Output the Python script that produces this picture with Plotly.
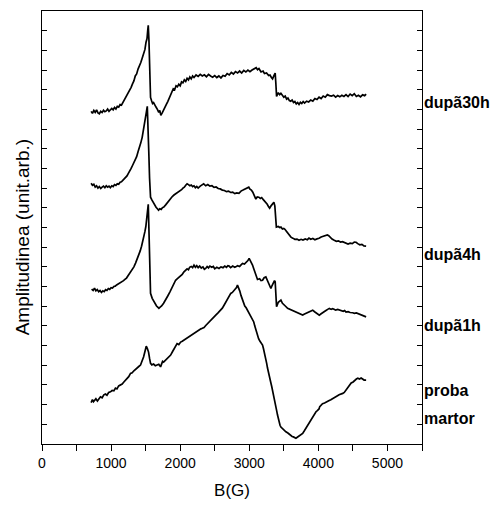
import plotly.graph_objects as go

# ---- data: (B in G, amplitude in arbitrary units) ----
pts_30h = [(711,16.90),(730,16.80),(750,16.95),(770,16.85),(790,16.98),(810,16.82),(830,16.78),(850,16.90),(870,16.84),
    (890,16.96),(910,16.88),(930,16.92),(950,17.02),(970,16.90),(990,16.98),(1010,17.05),(1030,16.98),(1050,17.10),
    (1070,17.02),(1090,17.15),(1110,17.12),(1130,17.25),(1150,17.22),(1170,17.35),(1190,17.42),(1210,17.60),(1230,17.66),
    (1250,17.85),(1270,17.92),(1290,18.12),(1310,18.30),(1330,18.45),(1350,18.70),(1370,18.80),(1390,19.05),(1410,19.20),
    (1430,19.38),(1450,19.60),(1470,19.82),(1490,20.05),(1505,20.40),(1520,20.60),(1530,21.00),(1538,21.27),(1548,20.50),
    (1557,19.49),(1565,18.30),(1571,17.61),(1585,17.45),(1600,17.30),(1615,17.35),(1630,17.22),(1650,17.12),(1670,17.00),
    (1690,16.85),(1705,16.95),(1720,16.70),(1740,16.82),(1760,16.95),(1780,17.05),(1800,17.25),(1820,17.40),(1840,17.55),
    (1860,17.70),(1880,17.90),(1900,18.05),(1920,18.00),(1940,18.20),(1960,18.15),(1980,18.28),(2000,18.20),(2020,18.40),
    (2040,18.35),(2060,18.50),(2080,18.42),(2100,18.58),(2120,18.50),(2140,18.65),(2160,18.55),(2180,18.70),(2200,18.62),
    (2230,18.75),(2260,18.68),(2290,18.78),(2320,18.70),(2350,18.76),(2380,18.66),(2410,18.78),(2440,18.70),(2470,18.64),
    (2500,18.72),(2530,18.62),(2560,18.70),(2590,18.60),(2620,18.72),(2650,18.68),(2680,18.82),(2710,18.75),(2740,18.88),
    (2770,18.80),(2800,18.92),(2830,18.85),(2860,18.95),(2890,18.85),(2920,18.98),(2950,18.90),(2980,19.00),(3010,18.92),
    (3040,19.00),(3070,19.05),(3100,19.12),(3120,19.02),(3140,19.08),(3170,18.90),(3200,18.95),(3220,18.82),(3250,18.85),
    (3280,18.72),(3300,18.75),(3320,18.62),(3337,18.55),(3355,18.70),(3375,18.85),(3385,18.30),(3395,17.66),(3420,17.85),
    (3440,17.75),(3458,17.82),(3480,17.70),(3500,17.62),(3520,17.68),(3540,17.52),(3560,17.58),(3580,17.45),(3600,17.42),
    (3620,17.48),(3640,17.35),(3660,17.40),(3680,17.28),(3700,17.35),(3720,17.25),(3740,17.36),(3760,17.30),(3780,17.40),
    (3800,17.32),(3830,17.42),(3860,17.38),(3890,17.48),(3920,17.42),(3950,17.55),(3980,17.50),(4010,17.62),(4040,17.55),
    (4070,17.68),(4100,17.62),(4130,17.75),(4160,17.70),(4190,17.68),(4220,17.72),(4250,17.62),(4280,17.70),(4310,17.64),
    (4340,17.72),(4370,17.66),(4400,17.75),(4430,17.65),(4460,17.78),(4490,17.70),(4520,17.80),(4550,17.66),(4580,17.72),
    (4610,17.64),(4640,17.74),(4670,17.70),(4691,17.78)]

pts_4h = [(711,13.25),(730,13.15),(750,13.20),(770,13.05),(790,13.12),(810,13.00),(830,13.08),(850,12.98),(870,13.05),
    (890,13.10),(910,13.02),(930,13.12),(950,13.05),(970,13.10),(990,13.02),(1010,13.12),(1030,13.08),(1050,13.18),
    (1070,13.14),(1090,13.22),(1110,13.20),(1130,13.30),(1150,13.32),(1170,13.40),(1190,13.45),(1210,13.55),(1230,13.62),
    (1250,13.75),(1270,13.85),(1290,14.00),(1310,14.15),(1330,14.30),(1350,14.45),(1370,14.60),(1390,14.85),(1410,15.05),
    (1430,15.30),(1450,15.58),(1465,15.85),(1480,16.20),(1495,16.55),(1510,16.85),(1524,17.16),(1535,16.30),(1545,14.90),
    (1557,13.50),(1571,12.54),(1590,12.40),(1615,12.23),(1635,12.12),(1651,12.03),(1670,11.95),(1687,11.88),(1705,11.95),
    (1725,11.92),(1745,12.02),(1760,12.03),(1790,12.15),(1820,12.30),(1850,12.45),(1880,12.55),(1910,12.65),(1940,12.72),
    (1970,12.80),(2000,12.85),(2020,12.92),(2040,13.00),(2060,13.05),(2080,13.15),(2100,13.22),(2120,13.18),(2140,13.12),
    (2160,13.16),(2180,13.08),(2200,13.12),(2220,13.02),(2240,13.08),(2260,13.00),(2290,13.10),(2320,13.18),(2340,13.22),
    (2370,13.12),(2400,13.18),(2430,13.10),(2460,13.12),(2490,13.04),(2520,13.06),(2550,12.98),(2580,12.96),(2610,12.90),
    (2640,12.88),(2670,12.82),(2700,12.85),(2730,12.78),(2760,12.80),(2790,12.72),(2820,12.76),(2850,12.74),(2880,12.85),
    (2910,12.90),(2940,12.95),(2970,13.00),(2993,13.05),(3010,12.95),(3030,12.90),(3051,12.79),(3070,12.60),(3095,12.44),
    (3115,12.55),(3139,12.54),(3160,12.48),(3180,12.52),(3197,12.44),(3220,12.35),(3240,12.25),(3260,12.18),(3280,12.05),
    (3295,11.98),(3315,12.10),(3335,12.22),(3356,12.28),(3370,12.10),(3380,11.60),(3392,11.02),(3420,11.05),(3440,11.00),
    (3458,11.02),(3480,10.92),(3500,10.95),(3516,10.91),(3540,10.80),(3559,10.71),(3580,10.62),(3603,10.51),(3630,10.46),
    (3660,10.40),(3690,10.41),(3720,10.35),(3750,10.40),(3777,10.36),(3810,10.42),(3840,10.38),(3864,10.46),(3890,10.40),
    (3920,10.44),(3950,10.38),(3980,10.42),(4010,10.45),(4040,10.52),(4070,10.55),(4100,10.58),(4130,10.62),(4150,10.58),
    (4170,10.50),(4198,10.41),(4230,10.35),(4260,10.30),(4290,10.32),(4320,10.26),(4350,10.28),(4372,10.25),(4400,10.22),
    (4430,10.16),(4460,10.20),(4490,10.18),(4520,10.26),(4546,10.25),(4570,10.18),(4600,10.12),(4630,10.14),(4660,10.06),
    (4691,10.05)]

pts_1h = [(718,7.87),(740,7.80),(760,7.92),(780,7.78),(800,7.85),(820,7.74),(840,7.80),(860,7.70),(880,7.78),(900,7.74),
    (920,7.84),(940,7.80),(960,7.90),(980,7.86),(1000,7.94),(1020,7.92),(1040,8.00),(1060,8.02),(1080,8.08),(1100,8.12),
    (1120,8.15),(1140,8.20),(1161,8.24),(1180,8.30),(1200,8.36),(1223,8.43),(1245,8.55),(1265,8.65),(1285,8.72),(1306,8.83),
    (1330,9.00),(1354,9.19),(1380,9.40),(1402,9.59),(1420,9.80),(1441,10.05),(1460,10.30),(1474,10.52),(1490,10.80),
    (1503,11.05),(1513,11.37),(1525,11.75),(1538,12.18),(1547,11.00),(1557,9.85),(1565,8.60),(1571,7.66),(1595,7.40),
    (1619,7.22),(1640,7.10),(1658,7.01),(1675,6.95),(1692,6.89),(1710,6.95),(1731,7.01),(1760,7.15),(1789,7.31),(1820,7.52),
    (1850,7.72),(1880,7.95),(1910,8.15),(1934,8.32),(1960,8.40),(1985,8.48),(2007,8.53),(2030,8.62),(2055,8.75),(2079,8.83),
    (2100,8.90),(2120,8.85),(2137,8.98),(2160,9.02),(2180,8.96),(2200,9.09),(2220,8.98),(2240,9.06),(2260,8.96),(2282,9.04),
    (2305,8.94),(2330,9.00),(2350,8.88),(2369,8.92),(2390,9.02),(2410,8.95),(2430,9.04),(2456,8.98),(2480,9.02),(2500,8.90),
    (2530,8.98),(2562,8.92),(2590,9.00),(2620,8.96),(2645,9.04),(2670,8.98),(2690,9.06),(2708,9.04),(2730,8.96),(2760,9.04),
    (2790,8.98),(2805,9.00),(2830,9.06),(2860,9.02),(2880,9.12),(2902,9.17),(2930,9.14),(2964,9.24),(2980,9.32),(2998,9.43),
    (3020,9.30),(3047,9.09),(3065,8.90),(3080,8.73),(3100,8.55),(3119,8.36),(3150,8.40),(3170,8.30),(3192,8.32),(3215,8.45),
    (3240,8.49),(3260,8.35),(3284,8.17),(3300,8.05),(3313,7.90),(3330,8.05),(3349,8.17),(3365,8.30),(3375,8.24),(3385,7.60),
    (3395,6.97),(3420,7.20),(3440,7.25),(3458,7.31),(3480,7.15),(3501,7.06),(3525,7.00),(3555,6.89),(3580,6.85),(3605,6.80),
    (3632,6.75),(3660,6.70),(3690,6.66),(3719,6.60),(3745,6.58),(3773,6.55),(3800,6.60),(3835,6.65),(3860,6.70),(3890,6.76),
    (3918,6.80),(3945,6.72),(3970,6.65),(3990,6.60),(4014,6.55),(4040,6.62),(4060,6.68),(4082,6.70),(4110,6.78),(4135,6.84),
    (4159,6.89),(4185,6.84),(4205,6.88),(4227,6.85),(4250,6.80),(4280,6.84),(4304,6.80),(4330,6.76),(4360,6.74),(4380,6.78),
    (4401,6.70),(4430,6.72),(4460,6.68),(4498,6.67),(4520,6.64),(4550,6.66),(4589,6.60),(4620,6.58),(4650,6.52),(4670,6.50),
    (4691,6.46)]

pts_martor = [(711,2.10),(730,2.25),(745,2.15),(759,2.23),(780,2.30),(802,2.18),(825,2.32),(846,2.40),(870,2.35),
    (895,2.50),(918,2.54),(940,2.48),(965,2.62),(991,2.65),(1015,2.72),(1040,2.70),(1063,2.84),(1085,2.80),(1110,2.95),
    (1136,2.99),(1160,3.05),(1185,3.15),(1209,3.25),(1230,3.35),(1255,3.42),(1281,3.59),(1305,3.62),(1330,3.72),(1354,3.81),
    (1380,3.88),(1405,3.95),(1426,4.01),(1450,4.20),(1470,4.42),(1490,4.70),(1509,4.97),(1525,4.85),(1542,4.67),(1557,4.35),
    (1571,4.10),(1590,4.02),(1615,4.06),(1640,3.98),(1669,4.01),(1690,4.05),(1716,3.92),(1730,4.05),(1745,4.20),(1760,4.16),
    (1785,4.25),(1814,4.35),(1840,4.42),(1862,4.52),(1890,4.70),(1910,4.85),(1934,5.03),(1955,5.10),(1980,5.05),(2007,5.18),
    (2030,5.22),(2055,5.28),(2080,5.35),(2100,5.40),(2123,5.43),(2150,5.50),(2175,5.56),(2200,5.62),(2230,5.70),(2250,5.75),
    (2268,5.79),(2300,5.85),(2320,5.88),(2345,5.92),(2370,6.02),(2390,6.10),(2413,6.19),(2440,6.30),(2465,6.38),(2490,6.46),
    (2515,6.55),(2544,6.65),(2565,6.72),(2587,6.80),(2610,6.90),(2635,7.05),(2660,7.21),(2685,7.35),(2710,7.50),(2732,7.65),
    (2755,7.70),(2776,7.77),(2800,7.90),(2815,7.95),(2829,8.07),(2845,7.95),(2863,7.77),(2880,7.55),(2902,7.31),(2920,7.15),
    (2935,7.01),(2955,6.92),(2975,6.80),(2990,6.70),(3008,6.55),(3030,6.45),(3047,6.38),(3065,6.20),(3080,5.99),(3100,5.70),
    (3119,5.45),(3135,5.35),(3153,5.23),(3175,5.12),(3192,5.03),(3205,4.85),(3218,4.67),(3230,4.50),(3240,4.35),(3252,4.10),
    (3264,3.86),(3276,3.62),(3288,3.42),(3300,3.25),(3313,3.10),(3325,2.92),(3337,2.74),(3350,2.55),(3363,2.34),(3375,2.10),
    (3385,1.89),(3397,1.68),(3409,1.47),(3421,1.25),(3433,1.05),(3445,0.95),(3458,0.86),(3480,0.78),(3506,0.71),(3530,0.62),
    (3559,0.56),(3580,0.48),(3603,0.41),(3620,0.38),(3639,0.36),(3655,0.32),(3675,0.29),(3695,0.34),(3719,0.41),(3745,0.48),
    (3773,0.54),(3795,0.66),(3821,0.81),(3845,0.95),(3869,1.13),(3895,1.28),(3922,1.42),(3945,1.52),(3966,1.64),(3985,1.70),
    (4009,1.78),(4020,1.90),(4038,1.98),(4060,2.05),(4090,2.08),(4125,2.13),(4150,2.20),(4180,2.25),(4208,2.32),(4240,2.38),
    (4271,2.44),(4300,2.50),(4330,2.52),(4353,2.57),(4375,2.62),(4401,2.74),(4425,2.86),(4449,3.00),(4475,3.10),(4503,3.15),
    (4530,3.25),(4550,3.30),(4571,3.34),(4595,3.30),(4619,3.35),(4640,3.28),(4662,3.25),(4691,3.25)]

series_labels = ["dupã30h", "dupã4h", "dupã1h", "proba", "martor"]
label_y = [17.36, 9.64, 6.04, 2.74, 1.32]
x_tick_vals = [0, 1000, 2000, 3000, 4000, 5000]
x_tick_text = ["0", "1000", "2000", "3000", "4000", "5000"]

FONT = "Liberation Sans, Arial, sans-serif"

fig = go.Figure()
for pts in [pts_30h, pts_4h, pts_1h, pts_martor]:
    bx = [p[0] for p in pts]
    ay = [p[1] for p in pts]
    fig.add_trace(go.Scatter(x=bx, y=ay, mode="lines",
                             line=dict(color="black", width=1.7), showlegend=False,
                             hoverinfo="skip"))

for txt, yy in zip(series_labels, label_y):
    fig.add_annotation(x=1.0, xref="paper", y=yy, yref="y", text="<b>" + txt + "</b>", showarrow=False,
                       xanchor="left", yanchor="middle", xshift=0, align="left",
                       font=dict(family=FONT, size=16, color="black"))

# y-axis title as a rotated annotation
fig.add_annotation(x=0, xref="paper", y=10.5, yref="y", text="Amplitudinea (unit.arb.)",
                   showarrow=False, textangle=-90, xanchor="center", yanchor="middle", xshift=-20,
                   font=dict(family=FONT, size=19, color="black"))

fig.update_layout(
    width=493, height=509,
    margin=dict(l=42, r=71, t=11, b=65),
    plot_bgcolor="white", paper_bgcolor="white",
    xaxis=dict(range=[0, 5500], tickvals=x_tick_vals, ticktext=x_tick_text,
               ticks="outside", ticklen=6, tickwidth=1, tickcolor="black",
               minor=dict(dtick=500, tick0=0, ticks="outside", ticklen=6, tickcolor="black"),
               showline=True, linecolor="black", linewidth=1, mirror=True,
               showgrid=False, zeroline=False,
               tickfont=dict(family=FONT, size=14, color="black"),
               title=dict(text="B(G)", font=dict(family=FONT, size=17, color="black"), standoff=14)),
    yaxis=dict(range=[0, 22], dtick=1, tick0=0, showticklabels=False,
               ticks="inside", ticklen=5, tickwidth=1, tickcolor="black",
               showline=True, linecolor="black", linewidth=1, mirror="ticks",
               showgrid=False, zeroline=False),
)

fig.write_html("out.html")
